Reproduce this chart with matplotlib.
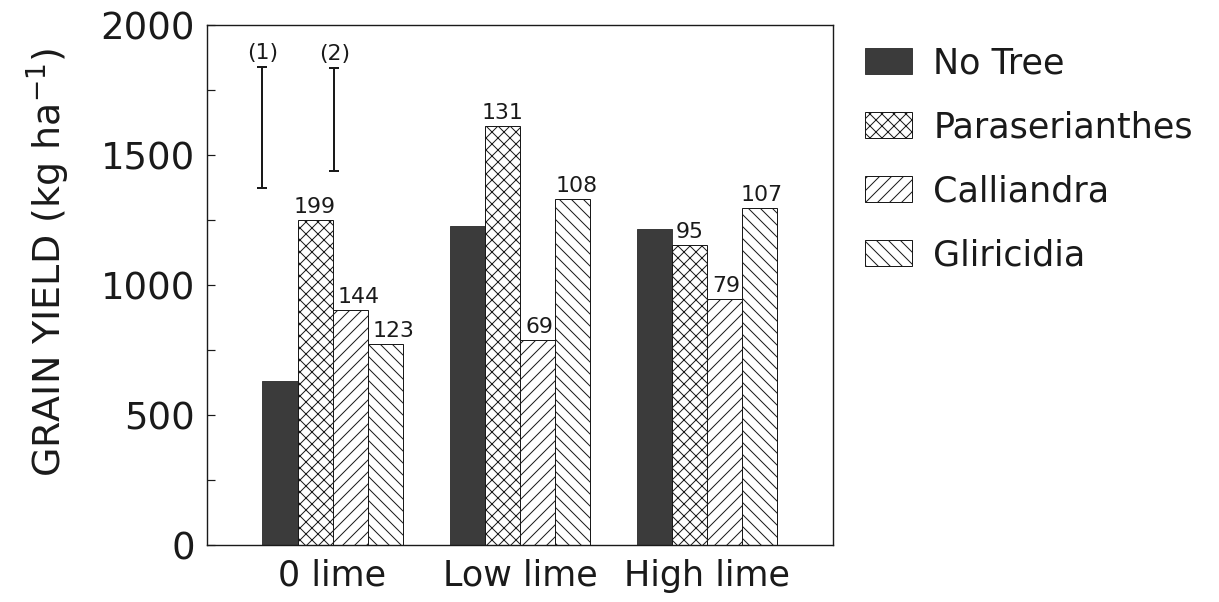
import matplotlib.pyplot as plt
import numpy as np

groups = ["0 lime", "Low lime", "High lime"]
series = ["No Tree", "Paraserianthes", "Calliandra", "Gliricidia"]

no_tree = [630, 1228, 1215]
paraserianthes = [1250, 1612, 1152]
calliandra = [905, 790, 948]
gliricidia = [772, 1330, 1297]

paraserianthes_notes = [199, 131, 95]
calliandra_notes = [144, 69, 79]
gliricidia_notes = [123, 108, 107]

lsd_labels = ["(1)", "(2)"]
lsd_low = [1373, 1440]
lsd_high = [1838, 1835]

INK = "#1a1a1a"
DPI = 72

plt.rcParams["font.family"] = ["DejaVu Sans"]
plt.rcParams["hatch.linewidth"] = 1.0
plt.rcParams["hatch.color"] = INK

fig = plt.figure(figsize=(1219 / DPI, 602 / DPI), dpi=DPI)
ax = fig.add_axes([0.1698, 0.0947, 0.5135, 0.8638])

x = np.arange(len(groups))
width = 0.187
offsets = (np.arange(len(series)) - 1.5) * width

styles = [
    {"color": "#3b3b3b", "edgecolor": "#3b3b3b", "hatch": None},
    {"color": "white", "edgecolor": INK, "hatch": "xx"},
    {"color": "white", "edgecolor": INK, "hatch": "//"},
    {"color": "white", "edgecolor": INK, "hatch": "\\\\"},
]
values = [no_tree, paraserianthes, calliandra, gliricidia]
notes = [None, paraserianthes_notes, calliandra_notes, gliricidia_notes]
# small sideways nudges of the value labels, as in the original
note_dx = [[0, 0, 0], [0, 0, 0], [8, 2, 1], [8, 4, 2]]

handles = []
for i, name in enumerate(series):
    bars = ax.bar(x + offsets[i], values[i], width, label=name, linewidth=1.0,
                  **styles[i])
    handles.append(bars)
    if notes[i] is None:
        continue
    for j, rect in enumerate(bars):
        ax.annotate(str(notes[i][j]),
                    xy=(rect.get_x() + rect.get_width() / 2, rect.get_height()),
                    xytext=(note_dx[i][j], 3), textcoords="offset points",
                    ha="center", va="bottom", fontsize=22, color=INK)

# LSD bars drawn in the first group
lsd_x = [-0.375, 0.01]
for xi, lo, hi, lab in zip(lsd_x, lsd_low, lsd_high, lsd_labels):
    mid = (lo + hi) / 2
    ax.errorbar(xi, mid, yerr=(hi - lo) / 2, fmt="none", ecolor=INK,
                elinewidth=2.0, capsize=5, capthick=2.0)
    ax.annotate(lab, xy=(xi, hi), xytext=(0, 4), textcoords="offset points",
                ha="center", va="bottom", fontsize=22, color=INK)

ax.set_xlim(-0.67, 2.67)
ax.set_ylim(0, 2000)
ax.set_xticks(x)
ax.set_xticklabels(groups, fontsize=35, color=INK)
ax.set_yticks([0, 500, 1000, 1500, 2000])
ax.set_yticks(np.arange(250, 2000, 500), minor=True)
ax.tick_params(axis="y", which="both", direction="in", length=8, width=1.2,
               pad=12, labelsize=37, labelcolor=INK, colors=INK)
ax.tick_params(axis="x", length=0, pad=14)
for spine in ax.spines.values():
    spine.set_linewidth(1.4)
    spine.set_color(INK)

ax.set_ylabel("GRAIN YIELD (kg ha$^{-1}$)", fontsize=38, color=INK)
ax.yaxis.set_label_coords(-0.215, 0.544)

fig.legend(handles=handles, loc="upper left",
           bbox_to_anchor=(865 / 1219, 1 - 46 / 602), frameon=False,
           fontsize=35, handlelength=1.35, handleheight=0.75,
           handletextpad=0.6, labelspacing=0.86, borderpad=0,
           borderaxespad=0, labelcolor=INK)

fig.savefig("out.png", dpi=DPI, facecolor="white")
